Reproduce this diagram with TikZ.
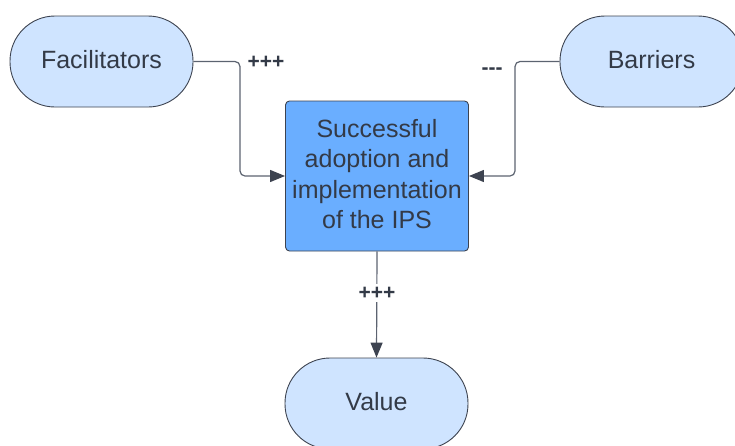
\documentclass[tikz,border=0pt]{standalone}
\usepackage{fontspec}
\setmainfont{Liberation Sans}
\usetikzlibrary{arrows.meta}
\definecolor{pillblue}{HTML}{CFE4FF}
\definecolor{coreblue}{HTML}{6AAEFF}
\definecolor{edgegray}{HTML}{3D4350}
\definecolor{wiregray}{HTML}{5C6370}
\definecolor{inkgray}{HTML}{333A47}
\tikzset{
  pill/.style={draw=edgegray, fill=pillblue, line width=0.9pt, rounded corners=45pt,
    minimum width=183pt, minimum height=91pt, text=inkgray,
    text height=18pt, text depth=5pt, font=\fontsize{25}{30}\selectfont},
  core/.style={draw=edgegray, fill=coreblue, line width=0.9pt, rounded corners=4pt,
    minimum width=183pt, minimum height=150pt, text=inkgray, align=center,
    inner sep=2pt, text depth=4pt, font=\fontsize{25}{30.5}\selectfont},
  wire/.style={draw=wiregray, line width=1.2pt, rounded corners=5pt,
    -{Triangle[length=15pt,width=12pt,fill=edgegray,color=edgegray]}},
  sign/.style={font=\fontsize{21}{21}\selectfont\bfseries, text=inkgray, anchor=base}
}
\begin{document}
\begin{tikzpicture}[x=1pt,y=-1pt]
\useasboundingbox (0,0) rectangle (735,445);
\clip (0,0) rectangle (735,445);

\node[pill] (fac) at (101.5,61.5) {Facilitators};
\node[pill] (bar) at (651.5,61.5) {Barriers};
\node[core] (ips) at (377,176) {Successful\\adoption and\\implementation\\of the IPS};
\node[pill] (val) at (376.5,403.5) {Value};

\coordinate (facbend) at (240,61.5);
\coordinate (barbend) at (515,61.5);

\draw[wire] (fac.east) -- (facbend) |- (ips.west);
\draw[wire] (bar.west) -- (barbend) |- (ips.east);
\draw[wire] (ips.south) -- (val.north);

\node[sign] (facsign) at (266,68) {+++};
\node[sign] (barsign) at (492,74) {{-}{-}{-}};
\node[sign, fill=white, inner sep=3pt] (valsign) at (377,299) {+++};
\end{tikzpicture}
\end{document}
